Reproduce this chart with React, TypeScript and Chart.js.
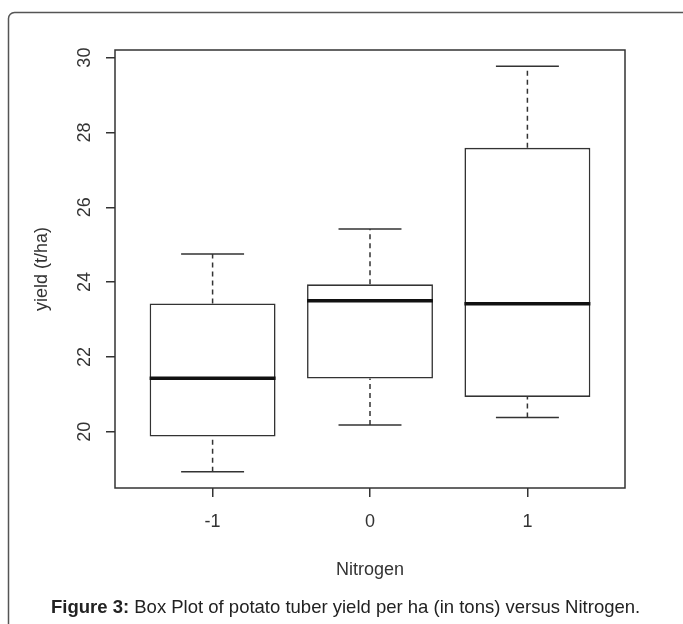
import React, { useEffect, useRef } from "react";
import { Chart, registerables } from "chart.js";

Chart.register(...registerables);

// ---- data ----
const categories = ["-1", "0", "1"];
const whiskerLow = [18.93, 20.18, 20.38];
const q1 = [19.87, 21.42, 20.93];
const median = [21.43, 23.5, 23.42];
const q3 = [23.43, 23.94, 27.59];
const whiskerHigh = [24.75, 25.42, 29.77];
const yTicks = [20, 22, 24, 26, 28, 30];
const xTitle = "Nitrogen";
const yTitle = "yield (t/ha)";
const captionBold = "Figure 3:";
const captionRest = " Box Plot of potato tuber yield per ha (in tons) versus Nitrogen.";

const FONT = '"Liberation Sans", Arial, sans-serif';
const INK = "#333";

// R-style axis ranges (4% extension)
const dataMin = Math.min(...whiskerLow);
const dataMax = Math.max(...whiskerHigh);
const yPad = (dataMax - dataMin) * 0.04;
const yMin = dataMin - yPad;
const yMax = dataMax + yPad;
const xMin = 0.5 - 0.04 * categories.length;
const xMax = categories.length + 0.5 + 0.04 * categories.length;
const HALF = 0.4; // box half width (boxwex 0.8)
const CAP = 0.2; // staple half width

function segments(pairs: { x: number; y: number | null }[][]) {
  const out: { x: number; y: number | null }[] = [];
  pairs.forEach((seg) => {
    seg.forEach((p) => out.push(p));
    out.push({ x: seg[0].x, y: null });
  });
  return out;
}

const boxData = categories.map((_, i) => ({ x: i + 1, y: [q1[i], q3[i]] }));
const medianData = segments(
  categories.map((_, i) => [
    { x: i + 1 - HALF, y: median[i] },
    { x: i + 1 + HALF, y: median[i] },
  ])
);
const whiskerData = segments(
  categories.flatMap((_, i) => [
    [
      { x: i + 1, y: q3[i] },
      { x: i + 1, y: whiskerHigh[i] },
    ],
    [
      { x: i + 1, y: whiskerLow[i] },
      { x: i + 1, y: q1[i] },
    ],
  ])
);
const capData = segments(
  categories.flatMap((_, i) => [
    [
      { x: i + 1 - CAP, y: whiskerHigh[i] },
      { x: i + 1 + CAP, y: whiskerHigh[i] },
    ],
    [
      { x: i + 1 - CAP, y: whiskerLow[i] },
      { x: i + 1 + CAP, y: whiskerLow[i] },
    ],
  ])
);

const decor = {
  id: "decor",
  beforeDraw(chart: any) {
    const ctx = chart.ctx;
    ctx.save();
    ctx.fillStyle = "#fff";
    ctx.fillRect(0, 0, chart.width, chart.height);
    ctx.strokeStyle = "#555";
    ctx.lineWidth = 1.5;
    const x0 = 8.5,
      y0 = 12.5,
      r = 6;
    ctx.beginPath();
    ctx.moveTo(x0, chart.height + 5);
    ctx.lineTo(x0, y0 + r);
    ctx.arcTo(x0, y0, x0 + r, y0, r);
    ctx.lineTo(chart.width + 5, y0);
    ctx.stroke();
    ctx.restore();
  },
  afterDraw(chart: any) {
    const { ctx, chartArea: a, scales } = chart;
    ctx.save();
    ctx.strokeStyle = INK;
    ctx.lineWidth = 1.5;
    ctx.strokeRect(a.left, a.top, a.right - a.left, a.bottom - a.top);
    // rotated y tick labels (R style)
    ctx.fillStyle = INK;
    ctx.font = `18px ${FONT}`;
    ctx.textAlign = "center";
    ctx.textBaseline = "alphabetic";
    scales.y.ticks.forEach((t: any) => {
      const py = scales.y.getPixelForValue(t.value);
      ctx.save();
      ctx.translate(a.left - 25.5, py);
      ctx.rotate(-Math.PI / 2);
      ctx.fillText(String(t.value), 0, 0);
      ctx.restore();
    });
    // caption
    ctx.fillStyle = "#222";
    ctx.textAlign = "left";
    ctx.font = `bold 18.5px ${FONT}`;
    ctx.fillText(captionBold, 51, 613);
    const w = ctx.measureText(captionBold).width;
    ctx.font = `18.5px ${FONT}`;
    ctx.fillText(captionRest, 51 + w, 613);
    ctx.restore();
  },
};

export default function App() {
  const ref = useRef<HTMLCanvasElement>(null);
  useEffect(() => {
    const chart = new Chart(ref.current as HTMLCanvasElement, {
      type: "bar",
      data: {
        datasets: [
          {
            type: "bar",
            data: boxData as any,
            backgroundColor: "#ffffff",
            borderColor: INK,
            borderWidth: 1.6,
            borderSkipped: false,
            barPercentage: 1,
            categoryPercentage: 0.8,
            order: 10,
          } as any,
          {
            type: "line",
            data: medianData as any,
            borderColor: "#111",
            borderWidth: 3.5,
            pointRadius: 0,
            spanGaps: false,
            order: 0,
          },
          {
            type: "line",
            data: whiskerData as any,
            borderColor: INK,
            borderWidth: 1.5,
            borderDash: [5, 4],
            pointRadius: 0,
            spanGaps: false,
            order: 1,
          },
          {
            type: "line",
            data: capData as any,
            borderColor: INK,
            borderWidth: 1.5,
            pointRadius: 0,
            spanGaps: false,
            order: 1,
          },
        ],
      },
      options: {
        responsive: false,
        animation: false,
        devicePixelRatio: 1,
        layout: { padding: { top: 50, right: 58, left: 0, bottom: 0 } },
        plugins: { legend: { display: false }, tooltip: { enabled: false } },
        scales: {
          x: {
            type: "linear",
            min: xMin,
            max: xMax,
            bounds: "data",
            offset: false,
            afterBuildTicks: (s: any) => {
              s.ticks = categories.map((_, i) => ({ value: i + 1 }));
            },
            afterFit: (s: any) => {
              s.height = 136;
            },
            ticks: {
              callback: (v: any) => categories[Math.round(Number(v)) - 1] ?? "",
              font: { family: FONT, size: 18 },
              color: INK,
              padding: 14,
              maxRotation: 0,
              autoSkip: false,
            },
            grid: {
              offset: false,
              drawOnChartArea: false,
              drawTicks: true,
              tickLength: 9,
              tickColor: INK,
              lineWidth: 1.5,
            },
            border: { display: false },
            title: {
              display: true,
              text: xTitle,
              font: { family: FONT, size: 18 },
              color: INK,
              padding: { top: 0, bottom: 43.4 },
            },
          },
          y: {
            type: "linear",
            min: yMin,
            max: yMax,
            bounds: "data",
            afterBuildTicks: (s: any) => {
              s.ticks = yTicks.map((v) => ({ value: v }));
            },
            afterFit: (s: any) => {
              s.width = 115;
            },
            ticks: { display: false },
            grid: {
              drawOnChartArea: false,
              drawTicks: true,
              tickLength: 9,
              tickColor: INK,
              lineWidth: 1.5,
            },
            border: { display: false },
            title: {
              display: true,
              text: yTitle,
              font: { family: FONT, size: 18 },
              color: INK,
              padding: { top: 31.2, bottom: 0 },
            },
          },
        },
      },
      plugins: [decor],
    } as any);
    return () => chart.destroy();
  }, []);
  return (
    <div
      style={{
        position: "fixed",
        left: 0,
        top: 0,
        width: 683,
        height: 624,
        background: "#fff",
      }}
    >
      <canvas ref={ref} width={683} height={624} style={{ display: "block", width: 683, height: 624 }} />
    </div>
  );
}
